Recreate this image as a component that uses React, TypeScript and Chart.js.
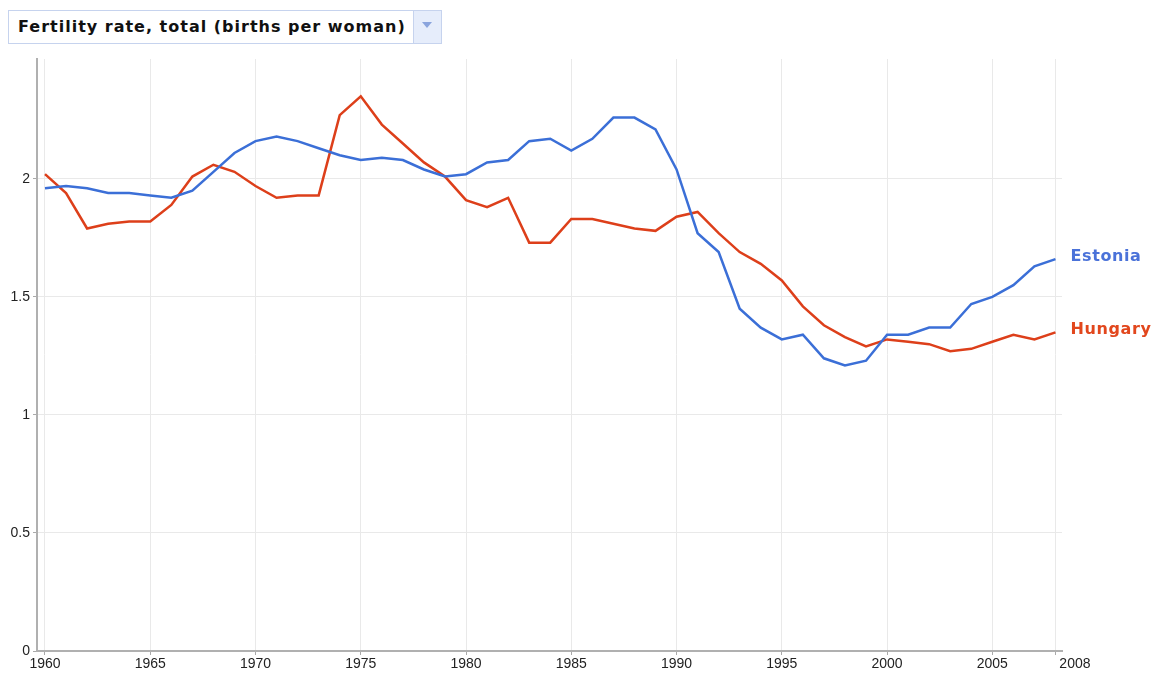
import React, { useEffect, useRef } from 'react';
import { Chart, registerables } from 'chart.js';

Chart.register(...registerables);

const years = [
  1960, 1961, 1962, 1963, 1964, 1965, 1966, 1967, 1968, 1969,
  1970, 1971, 1972, 1973, 1974, 1975, 1976, 1977, 1978, 1979,
  1980, 1981, 1982, 1983, 1984, 1985, 1986, 1987, 1988, 1989,
  1990, 1991, 1992, 1993, 1994, 1995, 1996, 1997, 1998, 1999,
  2000, 2001, 2002, 2003, 2004, 2005, 2006, 2007, 2008,
];

const estonia = [
  1.96, 1.97, 1.96, 1.94, 1.94, 1.93, 1.92, 1.95, 2.03, 2.11,
  2.16, 2.18, 2.16, 2.13, 2.10, 2.08, 2.09, 2.08, 2.04, 2.01,
  2.02, 2.07, 2.08, 2.16, 2.17, 2.12, 2.17, 2.26, 2.26, 2.21,
  2.04, 1.77, 1.69, 1.45, 1.37, 1.32, 1.34, 1.24, 1.21, 1.23,
  1.34, 1.34, 1.37, 1.37, 1.47, 1.50, 1.55, 1.63, 1.66,
];

const hungary = [
  2.02, 1.94, 1.79, 1.81, 1.82, 1.82, 1.89, 2.01, 2.06, 2.03,
  1.97, 1.92, 1.93, 1.93, 2.27, 2.35, 2.23, 2.15, 2.07, 2.01,
  1.91, 1.88, 1.92, 1.73, 1.73, 1.83, 1.83, 1.81, 1.79, 1.78,
  1.84, 1.86, 1.77, 1.69, 1.64, 1.57, 1.46, 1.38, 1.33, 1.29,
  1.32, 1.31, 1.30, 1.27, 1.28, 1.31, 1.34, 1.32, 1.35,
];

const seriesNames = ['Estonia', 'Hungary'];
const xTickValues = [1960, 1965, 1970, 1975, 1980, 1985, 1990, 1995, 2000, 2005, 2008];
const yTickValues = [0, 0.5, 1, 1.5, 2];
const titleText = 'Fertility rate, total (births per woman)';

const lineColors = ['#3b6fd7', '#dd3f1a'];
const labelColors = ['#4a72d9', '#e2471d'];
const tickFont = '"Liberation Sans", Arial, sans-serif';

const endLabels = {
  id: 'endLabels',
  afterDatasetsDraw(chart: any) {
    const ctx = chart.ctx;
    chart.data.datasets.forEach((ds: any, i: number) => {
      const meta = chart.getDatasetMeta(i);
      const pt = meta.data[meta.data.length - 1];
      if (!pt) return;
      ctx.save();
      ctx.font = 'bold 16px "DejaVu Sans", sans-serif';
      (ctx as any).letterSpacing = '0.6px';
      ctx.fillStyle = labelColors[i];
      ctx.textAlign = 'left';
      ctx.textBaseline = 'alphabetic';
      ctx.fillText(ds.label, pt.x + 15, pt.y + 1.5);
      (ctx as any).letterSpacing = '0px';
      ctx.restore();
    });
  },
};

export default function App() {
  const canvasRef = useRef<HTMLCanvasElement | null>(null);

  useEffect(() => {
    if (!canvasRef.current) return;
    const mk = (vals: number[]) => years.map((y, i) => ({ x: y, y: vals[i] }));
    const chart = new Chart(canvasRef.current, {
      type: 'line',
      data: {
        datasets: [
          {
            label: seriesNames[0],
            data: mk(estonia),
            borderColor: lineColors[0],
            backgroundColor: lineColors[0],
            borderWidth: 2.5,
            pointRadius: 0,
            tension: 0,
          },
          {
            label: seriesNames[1],
            data: mk(hungary),
            borderColor: lineColors[1],
            backgroundColor: lineColors[1],
            borderWidth: 2.5,
            pointRadius: 0,
            tension: 0,
          },
        ],
      },
      options: {
        animation: false,
        responsive: false,
        maintainAspectRatio: false,
        layout: { padding: { top: 59, right: 92, left: 0, bottom: 0 } },
        plugins: {
          legend: { display: false },
          tooltip: { enabled: false },
        },
        scales: {
          x: {
            type: 'linear',
            min: 1959.62,
            max: 2008.31,
            afterBuildTicks: (s: any) => {
              s.ticks = xTickValues.map((v) => ({ value: v }));
            },
            afterFit: (s: any) => {
              s.height = 22;
            },
            grid: { color: '#e9e9e9', lineWidth: 1, tickLength: 4, tickColor: '#aaaaaa', drawTicks: true },
            border: { color: '#b0b0b0', width: 2 },
            ticks: {
              autoSkip: false,
              maxRotation: 0,
              minRotation: 0,
              padding: 1,
              color: '#222',
              font: { family: tickFont, size: 14 },
              callback: (v: any) => (v === 2008 ? '          2008' : String(v)),
            },
          },
          y: {
            type: 'linear',
            min: 0,
            max: 2.508,
            afterBuildTicks: (s: any) => {
              s.ticks = yTickValues.map((v) => ({ value: v }));
            },
            afterFit: (s: any) => {
              s.width = 37;
            },
            grid: { color: '#e9e9e9', lineWidth: 1, tickLength: 4, tickColor: '#aaaaaa', drawTicks: true },
            border: { color: '#b0b0b0', width: 2 },
            ticks: {
              padding: 3,
              color: '#222',
              font: { family: tickFont, size: 14 },
              callback: (v: any) => String(v),
            },
          },
        },
      },
      plugins: [endLabels],
    } as any);
    return () => chart.destroy();
  }, []);

  return (
    <div style={{ position: 'absolute', left: 0, top: 0, width: 1154, height: 673, background: '#fff', overflow: 'hidden' }}>
      <canvas ref={canvasRef} width={1154} height={673} style={{ position: 'absolute', left: 0, top: 0, width: 1154, height: 673 }} />
      <div
        style={{
          position: 'absolute',
          left: 8,
          top: 10,
          width: 434,
          height: 34,
          boxSizing: 'border-box',
          border: '1px solid #c6d3ee',
          background: '#fff',
          display: 'flex',
        }}
      >
        <div
          style={{
            flex: 1,
            paddingLeft: 9,
            font: 'bold 16px "DejaVu Sans", sans-serif',
            letterSpacing: '1px',
            lineHeight: '32px',
            color: '#111',
            whiteSpace: 'nowrap',
            overflow: 'hidden',
          }}
        >
          {titleText}
        </div>
        <div style={{ width: 27, borderLeft: '1px solid #c6d3ee', background: '#e6edfb', position: 'relative' }}>
          <div
            style={{
              position: 'absolute',
              left: 8,
              top: 11,
              width: 0,
              height: 0,
              borderLeft: '5.5px solid transparent',
              borderRight: '5.5px solid transparent',
              borderTop: '6px solid #8aa4dd',
            }}
          />
        </div>
      </div>
    </div>
  );
}
